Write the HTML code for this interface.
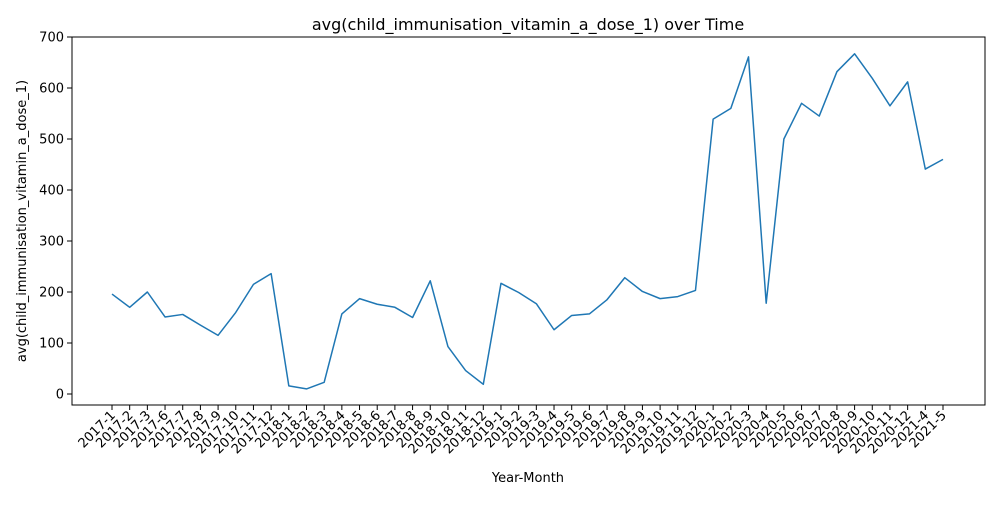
<!DOCTYPE html>
<html><head><meta charset="utf-8"><style>
body{margin:0;background:#fff;}
svg text{font-family:"DejaVu Sans","Liberation Sans",sans-serif;fill:#000;}
</style></head><body>
<svg id="chart" width="1000" height="500" xmlns="http://www.w3.org/2000/svg">
<rect width="1000" height="500" fill="#fff"/>
<text x="528" y="30" font-size="16" text-anchor="middle">avg(child_immunisation_vitamin_a_dose_1) over Time</text>
<text x="528" y="482" font-size="13" text-anchor="middle">Year-Month</text>
<text transform="translate(26,221) rotate(-90)" font-size="13" text-anchor="middle">avg(child_immunisation_vitamin_a_dose_1)</text>
<g id="axes"></g>
<rect x="72" y="37" width="913" height="368" fill="none" stroke="#000" stroke-width="1"/>
</svg>
<script>
const categories=["2017-1","2017-2","2017-3","2017-6","2017-7","2017-8","2017-9","2017-10","2017-11","2017-12",
"2018-1","2018-2","2018-3","2018-4","2018-5","2018-6","2018-7","2018-8","2018-9","2018-10","2018-11","2018-12",
"2019-1","2019-2","2019-3","2019-4","2019-5","2019-6","2019-7","2019-8","2019-9","2019-10","2019-11","2019-12",
"2020-1","2020-2","2020-3","2020-4","2020-5","2020-6","2020-7","2020-8","2020-9","2020-10","2020-11","2020-12",
"2021-4","2021-5"];
const values=[196,170,200,151,156,135,115,160,215,236,
16,10,23,157,187,176,170,150,222,93,46,19,
217,199,177,126,154,157,185,228,201,187,191,203,
539,560,661,178,500,570,545,632,667,619,565,612,
441,460];
const yTicks=[0,100,200,300,400,500,600,700];
const NS="http://www.w3.org/2000/svg";
const g=document.getElementById('axes');
const x0=112,x1=943;
function xs(i){return x0+(x1-x0)*i/(categories.length-1);}
function ys(v){return 394-v*(394-37)/700;}
function mk(t,a){const e=document.createElementNS(NS,t);for(const k in a)e.setAttribute(k,a[k]);g.appendChild(e);return e;}
yTicks.forEach(v=>{
  const tk=mk('line',{x1:67,x2:72,y1:ys(v),y2:ys(v),stroke:'#000'});
  
  
  const t=mk('text',{x:64,y:ys(v)+4.5,'font-size':13,'text-anchor':'end'});
  t.textContent=v;
  
  
});
categories.forEach((c,i)=>{
  const x=xs(i);
  const tk=mk('line',{x1:x,x2:x,y1:405,y2:410,stroke:'#000'});
  
  
  const t=mk('text',{transform:`translate(${x+4},${416}) rotate(-45)`,'font-size':13,'text-anchor':'end'});
  t.textContent=c;
  
  
});
const pts=values.map((v,i)=>xs(i)+','+ys(v)).join(' ');
const line=mk('polyline',{points:pts,fill:'none',stroke:'#1f77b4','stroke-width':1.5,'stroke-linejoin':'round'});


</script>
</body></html>
